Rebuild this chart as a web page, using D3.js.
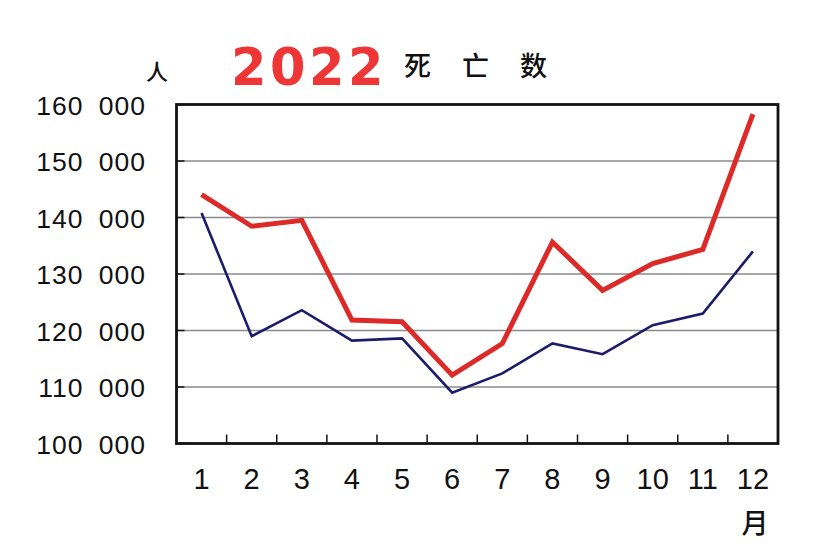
<!DOCTYPE html>
<html><head><meta charset="utf-8">
<script src="https://cdn.jsdelivr.net/npm/d3@7"></script>
<style>
html,body{margin:0;padding:0;background:#fff;}
text{font-family:"Liberation Sans",Arial,sans-serif;fill:#111;}
</style></head>
<body>
<svg id="c" width="828" height="556"></svg>
<script>
const months = ["1","2","3","4","5","6","7","8","9","10","11","12"];
const deaths2022 = [144050,138450,139500,121850,121550,112100,117700,135650,127100,131850,134350,158300];
const deathsPrev = [140800,119000,123600,118200,118600,109000,112400,117700,115800,120950,123000,134000];
const yTicks = [100000,110000,120000,130000,140000,150000,160000];

const svg = d3.select("#c");
const L=176.5, R=778, T=104.5, B=443.5;
const x = d3.scaleBand().domain(months).range([L,R]);
const y = d3.scaleLinear().domain([100000,160000]).range([B,T]);

// gridlines
svg.append("g").selectAll("line").data(yTicks.slice(1,-1)).join("line")
  .attr("x1",L).attr("x2",R).attr("y1",d=>y(d)).attr("y2",d=>y(d))
  .attr("stroke","#8a8a8a").attr("stroke-width",1.3);

// inner y ticks
svg.append("g").selectAll("line").data(yTicks).join("line")
  .attr("x1",L).attr("x2",L+8).attr("y1",d=>y(d)).attr("y2",d=>y(d))
  .attr("stroke","#111").attr("stroke-width",1.5);

// inner x ticks at band boundaries
svg.append("g").selectAll("line").data(months.slice(1)).join("line")
  .attr("x1",d=>x(d)).attr("x2",d=>x(d)).attr("y1",B).attr("y2",B-9)
  .attr("stroke","#111").attr("stroke-width",1.5);

// y labels
const fmt = d => { const s=String(d); return s.slice(0,s.length-3)+" "+s.slice(-3); };
svg.append("g").selectAll("text").data(yTicks).join("text")
  .attr("x",146).attr("y",d=>y(d)+10).attr("text-anchor","end")
  .style("font-size","26.5px").style("word-spacing","7px").style("letter-spacing","1px")
  .text(fmt);

// x labels
svg.append("g").selectAll("text").data(months).join("text")
  .attr("x",d=>x(d)+x.bandwidth()/2).attr("y",489).attr("text-anchor","middle")
  .style("font-size","29px").text(d=>d);

const line = d3.line().x((d,i)=>x(months[i])+x.bandwidth()/2).y(d=>y(d));
svg.append("path").datum(deathsPrev).attr("d",line).attr("fill","none")
  .attr("stroke","#1c1c6a").attr("stroke-width",2.6).attr("stroke-linejoin","miter");
svg.append("path").datum(deaths2022).attr("d",line).attr("fill","none")
  .attr("stroke","#dc2a28").attr("stroke-width",5).attr("stroke-linejoin","miter");

// frame
svg.append("rect").attr("x",L).attr("y",T).attr("width",R-L).attr("height",B-T)
  .attr("fill","none").attr("stroke","#111").attr("stroke-width",2.8);

// title & units
svg.append("text").attr("x",231).attr("y",85)
  .style("font-family","'DejaVu Sans',sans-serif").style("font-weight","bold")
  .style("font-size","51px").style("fill","#ee3636").style("letter-spacing","3.5px").text("2022");
svg.append("text").attr("x",404).attr("y",76)
  .style("font-family","'Noto Sans CJK SC',sans-serif").style("font-size","27px").style("font-weight","500")
  .style("letter-spacing","31px").text("死亡数");
svg.append("text").attr("x",157).attr("y",80).attr("text-anchor","middle")
  .style("font-family","'Noto Sans CJK SC',sans-serif").style("font-size","22px").style("font-weight","500").text("人");
svg.append("text").attr("x",755).attr("y",533).attr("text-anchor","middle")
  .style("font-family","'Noto Sans CJK SC',sans-serif").style("font-size","27px").style("font-weight","500").text("月");
</script>
</body></html>
